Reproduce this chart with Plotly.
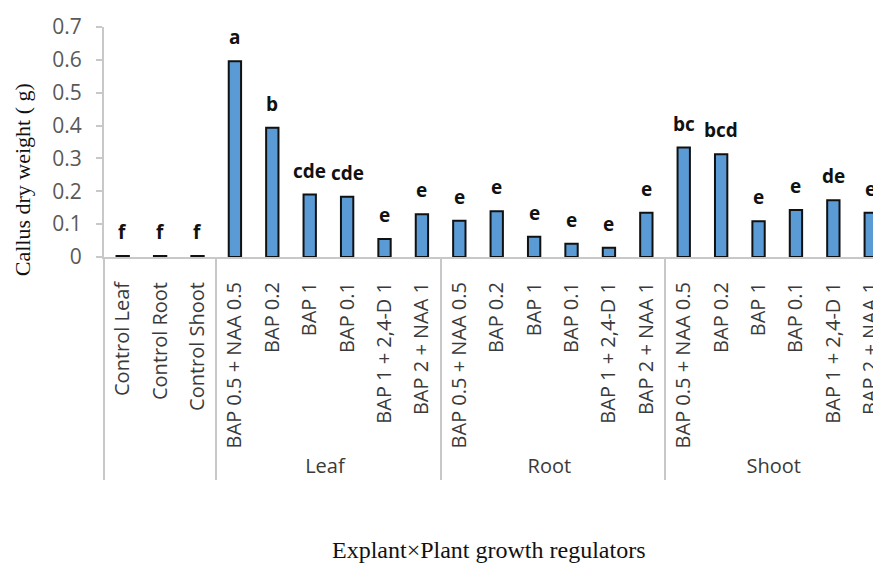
import plotly.graph_objects as go

# Explant groups (outer level) and growth-regulator treatments (inner level)
groups = ["", "", "",
          "Leaf", "Leaf", "Leaf", "Leaf", "Leaf", "Leaf",
          "Root", "Root", "Root", "Root", "Root", "Root",
          "Shoot", "Shoot", "Shoot", "Shoot", "Shoot", "Shoot"]
treatments = ["Control Leaf", "Control Root", "Control Shoot",
              "BAP 0.5 + NAA 0.5", "BAP 0.2", "BAP 1", "BAP 0.1", "BAP 1 + 2,4-D 1", "BAP 2 + NAA 1",
              "BAP 0.5 + NAA 0.5", "BAP 0.2", "BAP 1", "BAP 0.1", "BAP 1 + 2,4-D 1", "BAP 2 + NAA 1",
              "BAP 0.5 + NAA 0.5", "BAP 0.2", "BAP 1", "BAP 0.1", "BAP 1 + 2,4-D 1", "BAP 2 + NAA 1"]
dry_weight = [0.003, 0.003, 0.003,
              0.596, 0.393, 0.19, 0.183, 0.055, 0.13,
              0.11, 0.139, 0.062, 0.04, 0.028, 0.135,
              0.333, 0.313, 0.109, 0.143, 0.173, 0.135]
letters = ["f", "f", "f",
           "a", "b", "cde", "cde", "e", "e",
           "e", "e", "e", "e", "e", "e",
           "bc", "bcd", "e", "e", "de", "e"]
y_ticks = [0, 0.1, 0.2, 0.3, 0.4, 0.5, 0.6, 0.7]

fig = go.Figure()
fig.add_trace(go.Bar(
    x=[groups, treatments],
    y=dry_weight,
    marker=dict(color="#5b9bd5", line=dict(color="#111111", width=2)),
    width=0.33,
    showlegend=False,
))

# significance letters above each bar
for g, t, v, s in zip(groups, treatments, dry_weight, letters):
    fig.add_annotation(
        x=[g, t], y=v, text=s, showarrow=False,
        xref="x", yref="y", yanchor="bottom", yshift=9,
        font=dict(family="Open Sans", size=19, color="#111111", weight="bold"),
    )

fig.add_annotation(
    text="Callus dry weight ( g)", textangle=-90, showarrow=False,
    xref="paper", yref="paper", x=-0.105, y=0.335, xanchor="center", yanchor="middle",
    font=dict(family="Liberation Serif", size=22, color="#111111"),
)
fig.add_annotation(
    text="Explant×Plant growth regulators", showarrow=False,
    xref="paper", yref="paper", x=0.5, y=-1.274, xanchor="center", yanchor="middle",
    font=dict(family="Liberation Serif", size=24, color="#111111"),
)

fig.update_layout(
    width=873, height=563,
    margin=dict(l=104, r=0, t=27, b=306),
    paper_bgcolor="white", plot_bgcolor="white",
    font=dict(family="Open Sans", size=20, color="#404040"),
)
fig.update_xaxes(
    type="multicategory",
    range=[-0.5, 20.06],
    tickangle=-90,
    tickfont=dict(family="Open Sans", size=20, color="#3a3a3a"),
    ticklabelstandoff=15,
    showline=True, linecolor="#c8c8c8", linewidth=2,
    showdividers=True, dividercolor="#c8c8c8", dividerwidth=2,
    showgrid=False, zeroline=False,
)
fig.update_yaxes(
    range=[0, 0.7],
    tickvals=y_ticks,
    ticktext=[f"{v:g}" for v in y_ticks],
    tickfont=dict(family="Open Sans", size=21, color="#595959"),
    ticks="outside", ticklen=6, tickcolor="#c8c8c8", tickwidth=2,
    ticklabelstandoff=10,
    showline=True, linecolor="#c8c8c8", linewidth=2,
    showgrid=False, zeroline=False,
)

fig.write_html("out.html")
